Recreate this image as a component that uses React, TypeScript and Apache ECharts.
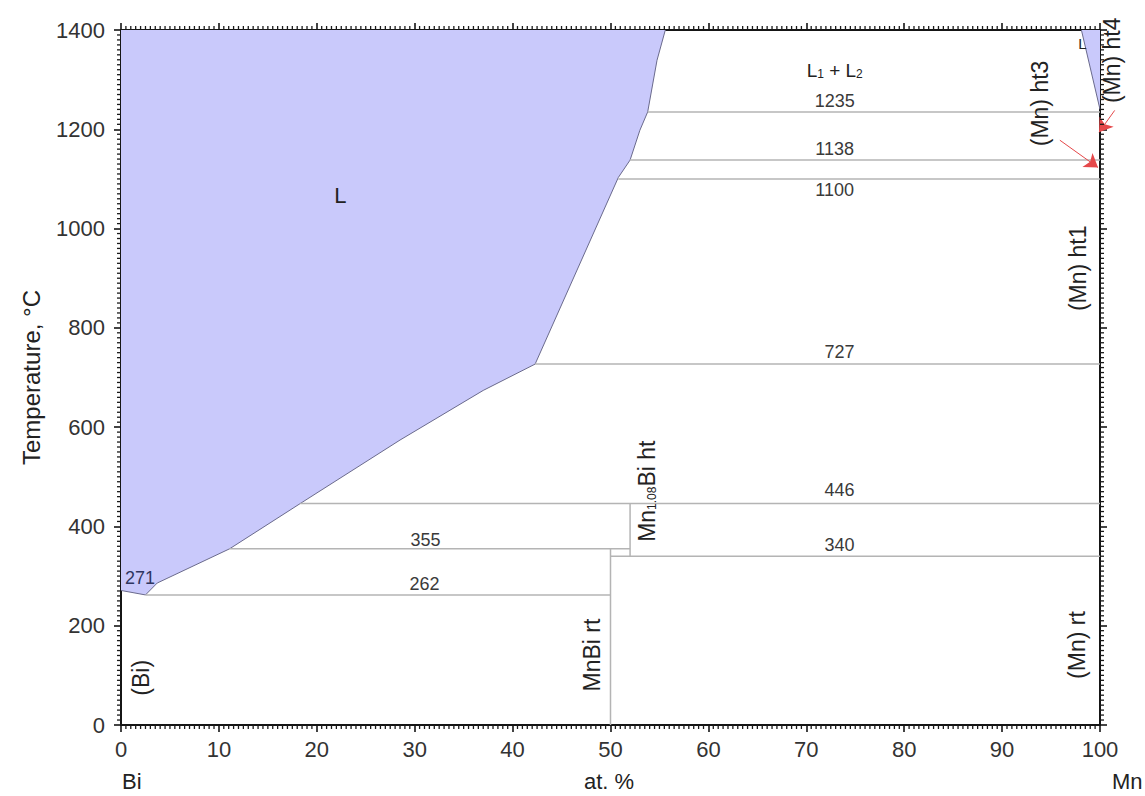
import React, { useEffect, useRef } from "react";
import * as echarts from "echarts";

// ---- axes ----
const X_MIN = 0;
const X_MAX = 100;
const X_STEP = 10;
const X_MINOR_STEP = 0.5;
const T_MIN = 0;
const T_MAX = 1400;
const T_STEP = 200;
const T_MINOR_STEP = 10;

// ---- liquid region (Bi side) boundary ----
const liquidusX = [0, 2.5, 3.7, 11.1, 18.3, 28.5, 37.0, 42.3, 50.8, 52.0, 53.0, 53.8, 54.75, 55.6];
const liquidusT = [271, 262, 286, 355, 446, 574, 674, 727, 1103, 1138, 1198, 1235, 1339, 1400];

// ---- liquid region (Mn side) boundary ----
const mnLiquidX = [98.1, 100];
const mnLiquidT = [1400, 1240];

// ---- isotherms ----
const isoT = [1235, 1138, 1100, 727, 446, 355, 340, 262];
const isoFrom = [53.8, 52.0, 50.8, 42.3, 18.3, 11.1, 50, 2.5];
const isoTo = [100, 100, 100, 100, 100, 52, 100, 50];

// ---- vertical phase lines ----
const vertX = [50, 52];
const vertFrom = [0, 340];
const vertTo = [355, 446];

// ---- isotherm labels ----
const isoLabelText = ["1235", "1138", "1100", "727", "446", "340", "355", "262"];
const isoLabelX = [72.9, 72.9, 72.9, 73.4, 73.4, 73.4, 31.1, 31.0];
const isoLabelT = [1256, 1161, 1077, 751, 473, 362, 372, 284];

// ---- horizontal phase labels ----
const phaseText = ["L", "L{s|1} + L{s|2}", "L"];
const phaseX = [22.4, 72.9, 98.2];
const phaseT = [1067, 1318, 1373];
const phaseSize = [22, 19, 15];

// ---- rotated phase labels ----
const rotText = ["(Bi)", "MnBi rt", "Mn{s|1.08}Bi ht", "(Mn) rt", "(Mn) ht1", "(Mn) ht3", "(Mn) ht4"];
const rotX = [2.05, 48.1, 53.7, 97.6, 97.8, 93.9, 101.2];
const rotT = [95, 141, 471, 161, 920, 1252, 1339];

// ---- eutectic label ----
const eutText = ["271"];
const eutX = [1.95];
const eutT = [296];

// ---- arrows to (Mn) ht3 / ht4 ----
const arrowFromX = [101.5, 95.9];
const arrowFromT = [1238, 1178];
const arrowToX = [99.9, 99.8];
const arrowToT = [1194, 1123];

const FONT = '"Liberation Sans", Arial, Helvetica, sans-serif';

function textSeries(
  name: string,
  xs: number[],
  ts: number[],
  texts: string[],
  opts: { size: number | number[]; color: string; rotation?: number; rich?: any }
) {
  return {
    type: "custom",
    name,
    coordinateSystem: "cartesian2d",
    clip: false,
    silent: true,
    z: 10,
    data: xs.map((x, i) => [x, ts[i]]),
    renderItem: (params: any, api: any) => {
      const p = api.coord([api.value(0), api.value(1)]);
      const i = params.dataIndex;
      const size = Array.isArray(opts.size) ? opts.size[i] : opts.size;
      return {
        type: "text",
        x: p[0],
        y: p[1],
        rotation: opts.rotation || 0,
        style: {
          text: texts[i],
          fill: opts.color,
          fontSize: size,
          fontFamily: FONT,
          align: "center",
          verticalAlign: "middle",
          rich: opts.rich,
        },
      };
    },
  };
}

function axisBase(
  showLabels: boolean,
  min: number,
  max: number,
  interval: number,
  position: string,
  margin: number
) {
  return {
    type: "value",
    min,
    max,
    interval,
    position,
    axisLine: { show: true, onZero: false, lineStyle: { color: "#151515", width: 2 } },
    axisTick: { show: true, length: 7, lineStyle: { color: "#151515", width: 1.6 } },
    splitLine: { show: false },
    axisLabel: {
      show: showLabels,
      color: "#333",
      fontSize: 22,
      fontFamily: FONT,
      margin,
      formatter: (v: number) => String(v),
    },
  };
}

// fine ticks on all four frame sides, placed through the axis scales
const minorTickSeries = {
  type: "custom",
  name: "minorTicks",
  coordinateSystem: "cartesian2d",
  clip: false,
  silent: true,
  z: 20,
  data: [[X_MIN, T_MIN]],
  renderItem: (params: any, api: any) => {
    const L = 4;
    const yBottom = api.coord([X_MIN, T_MIN])[1];
    const yTop = api.coord([X_MIN, T_MAX])[1];
    const xLeft = api.coord([X_MIN, T_MIN])[0];
    const xRight = api.coord([X_MAX, T_MIN])[0];
    const children: any[] = [];
    const st = { stroke: "#1a1a1a", lineWidth: 1.3 };
    const nx = Math.round((X_MAX - X_MIN) / X_MINOR_STEP);
    for (let k = 1; k < nx; k++) {
      const v = X_MIN + k * X_MINOR_STEP;
      if (Math.abs(v / X_STEP - Math.round(v / X_STEP)) < 1e-9) continue;
      const px = api.coord([v, T_MIN])[0];
      children.push({ type: "line", shape: { x1: px, y1: yBottom, x2: px, y2: yBottom + L }, style: st });
      children.push({ type: "line", shape: { x1: px, y1: yTop, x2: px, y2: yTop - L }, style: st });
    }
    const ny = Math.round((T_MAX - T_MIN) / T_MINOR_STEP);
    for (let k = 1; k < ny; k++) {
      const v = T_MIN + k * T_MINOR_STEP;
      if (Math.abs(v / T_STEP - Math.round(v / T_STEP)) < 1e-9) continue;
      const py = api.coord([X_MIN, v])[1];
      children.push({ type: "line", shape: { x1: xLeft, y1: py, x2: xLeft - L, y2: py }, style: st });
      children.push({ type: "line", shape: { x1: xRight, y1: py, x2: xRight + L, y2: py }, style: st });
    }
    return { type: "group", children };
  },
};

export default function App() {
  const ref = useRef<HTMLDivElement>(null);

  useEffect(() => {
    document.body.style.margin = "0";
    if (!ref.current) return;
    const chart = echarts.init(ref.current, undefined, { renderer: "svg" });

    const subRich = {
      s: { fontSize: 12, fontFamily: FONT, verticalAlign: "bottom", fill: "#222" },
    };

    const series: any[] = [];

    // Bi-side liquid field
    series.push({
      type: "line",
      name: "liquidus",
      data: liquidusX.map((x, i) => [x, liquidusT[i]]),
      symbol: "none",
      silent: true,
      lineStyle: { color: "#6a6a8c", width: 1 },
      areaStyle: { color: "#c9c9fb", opacity: 1, origin: "end" },
      z: 2,
    });
    // Mn-side liquid field
    series.push({
      type: "line",
      name: "mnLiquidus",
      data: mnLiquidX.map((x, i) => [x, mnLiquidT[i]]),
      symbol: "none",
      silent: true,
      lineStyle: { color: "#6a6a8c", width: 1 },
      areaStyle: { color: "#c9c9fb", opacity: 1, origin: "end" },
      z: 2,
    });

    // isotherms
    isoT.forEach((t, i) => {
      series.push({
        type: "line",
        name: "iso" + t,
        data: [
          [isoFrom[i], t],
          [isoTo[i], t],
        ],
        symbol: "none",
        silent: true,
        lineStyle: { color: "#b4b4b4", width: 1.5 },
        z: 3,
      });
    });

    // vertical phase lines
    vertX.forEach((x, i) => {
      series.push({
        type: "line",
        name: "vert" + x,
        data: [
          [x, vertFrom[i]],
          [x, vertTo[i]],
        ],
        symbol: "none",
        silent: true,
        lineStyle: { color: "#b4b4b4", width: 1.5 },
        z: 3,
      });
    });

    // arrows
    series.push({
      type: "lines",
      name: "arrows",
      coordinateSystem: "cartesian2d",
      clip: false,
      silent: true,
      symbol: ["none", "arrow"],
      symbolSize: 13,
      lineStyle: { color: "#e5484a", width: 1, opacity: 1 },
      data: arrowFromX.map((x, i) => ({
        coords: [
          [x, arrowFromT[i]],
          [arrowToX[i], arrowToT[i]],
        ],
      })),
      z: 12,
    });

    series.push(
      textSeries("isoLabels", isoLabelX, isoLabelT, isoLabelText, { size: 18, color: "#3a3a3a" })
    );
    series.push(
      textSeries("phaseLabels", phaseX, phaseT, phaseText, { size: phaseSize, color: "#222", rich: subRich })
    );
    series.push(
      textSeries("rotLabels", rotX, rotT, rotText, {
        size: 23,
        color: "#222",
        rotation: Math.PI / 2,
        rich: { s: { fontSize: 12, fontFamily: FONT, verticalAlign: "bottom", fill: "#222" } },
      })
    );
    series.push(textSeries("eutLabel", eutX, eutT, eutText, { size: 18, color: "#2e3560" }));
    series.push(minorTickSeries);

    chart.setOption({
      animation: false,
      backgroundColor: "#ffffff",
      grid: { left: 121, right: 45, top: 30, bottom: 71, containLabel: false },
      xAxis: [
        axisBase(true, X_MIN, X_MAX, X_STEP, "bottom", 13),
        axisBase(false, X_MIN, X_MAX, X_STEP, "top", 8),
      ],
      yAxis: [
        {
          ...axisBase(true, T_MIN, T_MAX, T_STEP, "left", 16),
          name: "Temperature, °C",
          nameLocation: "middle",
          nameGap: 78,
          nameTextStyle: { color: "#222", fontSize: 24, fontFamily: FONT },
        },
        axisBase(false, T_MIN, T_MAX, T_STEP, "right", 8),
      ],
      graphic: [
        {
          type: "text",
          left: 122,
          top: 770,
          style: { text: "Bi", fill: "#222", fontSize: 22, fontFamily: FONT },
        },
        {
          type: "text",
          left: 584,
          top: 770,
          style: { text: "at. %", fill: "#222", fontSize: 22, fontFamily: FONT },
        },
        {
          type: "text",
          left: 1112,
          top: 770,
          style: { text: "Mn", fill: "#222", fontSize: 22, fontFamily: FONT },
        },
      ],
      series,
    });

    return () => chart.dispose();
  }, []);

  return (
    <div
      ref={ref}
      style={{ position: "absolute", left: 0, top: 0, width: 1145, height: 796, background: "#fff" }}
    />
  );
}
